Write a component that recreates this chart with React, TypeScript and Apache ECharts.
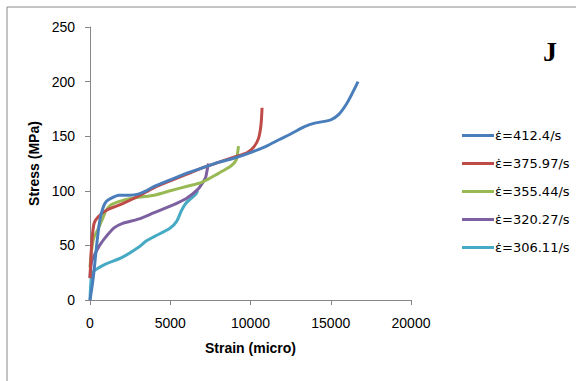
import React, { useEffect, useRef } from "react";
import * as echarts from "echarts";

const seriesNames = ["ε̇=412.4/s", "ε̇=375.97/s", "ε̇=355.44/s", "ε̇=320.27/s", "ε̇=306.11/s"];
const colors = ["#4A7EBB", "#BE4B48", "#98B954", "#7D60A0", "#46AAC5"];

const blue: [number, number][] = [
  [0, 0], [200, 20], [400, 48], [600, 72], [800, 84], [1000, 90], [1300, 93], [1800, 96], [2500, 96],
  [3000, 97], [3500, 100], [4000, 104], [5000, 110], [6000, 116], [7000, 121], [8000, 126], [9000, 130],
  [10000, 135], [11000, 141], [11800, 147], [12500, 152], [13400, 159], [14000, 162], [15000, 165],
  [15500, 170], [16000, 180], [16400, 191], [16700, 200],
];
const red: [number, number][] = [
  [0, 20], [100, 50], [250, 70], [500, 76], [1000, 82], [2000, 88], [3000, 95], [4000, 103], [5000, 109],
  [6000, 115], [7000, 121], [8000, 126], [9000, 131], [9800, 135], [10200, 140], [10500, 148],
  [10650, 160], [10720, 176],
];
const green: [number, number][] = [
  [0, 30], [200, 55], [500, 65], [800, 75], [1000, 82], [1300, 87], [2000, 91], [3000, 94], [4000, 96],
  [5000, 100], [6000, 104], [7000, 108], [8000, 116], [8800, 123], [9100, 128], [9200, 135], [9250, 141],
];
const purple: [number, number][] = [
  [0, 20], [100, 35], [300, 42], [600, 50], [1000, 58], [1500, 66], [2000, 70], [3000, 74], [4000, 80],
  [5000, 86], [6000, 93], [6700, 101], [7000, 107], [7200, 112], [7300, 119], [7380, 125],
];
const cyan: [number, number][] = [
  [0, 0], [50, 15], [150, 25], [500, 29], [1000, 33], [2000, 39], [3000, 48], [3500, 54], [4000, 58],
  [5000, 66], [5400, 72], [5700, 82], [6000, 89], [6300, 93], [6600, 97], [6700, 100],
];
const dataSets = [blue, red, green, purple, cyan];

const xTicks = [0, 5000, 10000, 15000, 20000];
const yTicks = [0, 50, 100, 150, 200, 250];

export default function App() {
  const ref = useRef<HTMLDivElement>(null);
  useEffect(() => {
    if (!ref.current) return;
    const chart = echarts.init(ref.current, undefined, { renderer: "svg" });
    const axisColor = "#868686";
    chart.setOption({
      animation: false,
      backgroundColor: "#ffffff",
      grid: { left: 90, top: 27, right: 165, bottom: 81, containLabel: false },
      xAxis: {
        type: "value",
        min: xTicks[0],
        max: xTicks[xTicks.length - 1],
        interval: 5000,
        name: "Strain (micro)",
        nameLocation: "middle",
        nameGap: 41,
        nameTextStyle: { fontFamily: "Liberation Sans", fontSize: 14, fontWeight: "bold", color: "#000" },
        axisLine: { show: true, lineStyle: { color: axisColor, width: 1 } },
        axisTick: { show: true, length: 5, lineStyle: { color: axisColor } },
        axisLabel: {
          fontFamily: "Liberation Sans",
          fontSize: 14,
          color: "#000",
          margin: 16,
          formatter: (v: number) => String(v),
        },
        splitLine: { show: false },
      },
      yAxis: {
        type: "value",
        min: yTicks[0],
        max: yTicks[yTicks.length - 1],
        interval: 50,
        name: "Stress (MPa)",
        nameLocation: "middle",
        nameGap: 46,
        nameTextStyle: { fontFamily: "Liberation Sans", fontSize: 14, fontWeight: "bold", color: "#000" },
        axisLine: { show: true, lineStyle: { color: axisColor, width: 1 } },
        axisTick: { show: true, length: 5, lineStyle: { color: axisColor } },
        axisLabel: { fontFamily: "Liberation Sans", fontSize: 14, color: "#000", margin: 15 },
        splitLine: { show: false },
      },
      legend: {
        orient: "vertical",
        left: 457,
        top: 124,
        icon: "rect",
        itemWidth: 32,
        itemHeight: 3,
        itemGap: 15,
        textStyle: { fontFamily: "DejaVu Sans", fontSize: 13, color: "#000", padding: [0, 0, 0, -4] },
        data: seriesNames,
      },
      series: dataSets.map((d, i) => ({
        name: seriesNames[i],
        type: "line",
        data: d,
        smooth: 0.3,
        showSymbol: false,
        symbol: "none",
        color: colors[i],
        lineStyle: { width: 3, color: colors[i] },
        z: 10 - i,
      })),
      graphic: [
        {
          type: "rect",
          shape: { x: 7, y: 7, width: 700, height: 500 },
          style: { fill: "none", stroke: "#8a8a8a", lineWidth: 1 },
          silent: true,
        },
        {
          type: "text",
          left: 543,
          top: 37,
          style: { text: "J", font: "bold 28px 'Liberation Serif'", fill: "#000" },
        },
      ],
    });
    return () => chart.dispose();
  }, []);
  return <div ref={ref} style={{ position: "fixed", left: 0, top: 0, width: 576, height: 381 }} />;
}
